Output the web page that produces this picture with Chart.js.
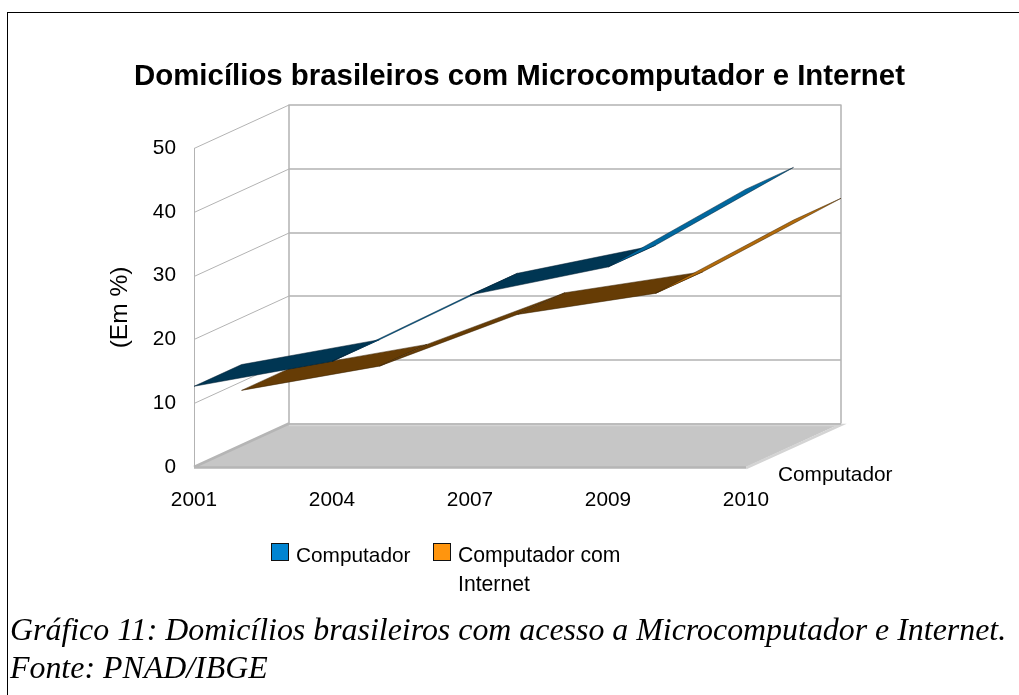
<!DOCTYPE html>
<html>
<head>
<meta charset="utf-8">
<script src="https://cdn.jsdelivr.net/npm/chart.js@4"></script>
<style>
  html, body { margin: 0; padding: 0; background: #fff; overflow: hidden; }
  body { width: 1019px; height: 695px; position: relative; font-family: "Liberation Sans", sans-serif; }
  #frame { position: absolute; left: 7px; top: 12px; width: 1100px; height: 800px; border: 1px solid #000; }
  #myChart { position: absolute; left: 0; top: 0; }
  #title { position: absolute; left: 0; top: 58px; width: 1039px; text-align: center; font-weight: bold; font-size: 29.4px; white-space: nowrap; }
  #legend div { position: absolute; font-size: 20.8px; line-height: 29px; white-space: nowrap; }
  #legend .box { width: 16px; height: 16px; border: 1px solid #111; }
  #caption { position: absolute; left: 10px; top: 611px; font: italic 31.9px/37.5px "Liberation Serif", serif; white-space: nowrap; }
</style>
</head>
<body>
<div id="frame"></div>
<canvas id="myChart" width="1019" height="695"></canvas>
<div id="title">Domicílios brasileiros com Microcomputador e Internet</div>
<div id="legend">
  <div class="box" style="left:271px;top:543px;background:#0084d1"></div>
  <div style="left:296px;top:540px">Computador</div>
  <div class="box" style="left:433px;top:543px;background:#ff950e"></div>
  <div style="left:458px;top:540px;font-size:21.2px">Computador com<br>Internet</div>
</div>
<div id="caption">Gráfico 11: Domicílios brasileiros com acesso a Microcomputador e Internet.<br>Fonte: PNAD/IBGE</div>
<script>
// Values
const years = ['2001', '2004', '2007', '2009', '2010'];
const computador = [12.65, 16.55, 26.95, 31.35, 43.55];
const computadorInternet = [8.6, 12.4, 20.5, 23.8, 35.3];
const depthLabel = 'Computador';
const yTitle = '(Em %)';

// Size of one depth row, in pixels
const DEPTH_X = 47.5;
const DEPTH_Y = -21.75;

// Draws the box, the floor and the ribbons behind the (hidden) datasets
const depthPlugin = {
  id: 'depthPlugin',
  beforeDatasetsDraw(chart) {
    const ctx = chart.ctx;
    const a = chart.chartArea;
    const y = chart.scales.y;
    const dx = DEPTH_X * 2, dy = DEPTH_Y * 2;
    ctx.save();

    // floor
    ctx.fillStyle = '#c6c6c6';
    ctx.beginPath();
    ctx.moveTo(a.left, a.bottom);
    ctx.lineTo(a.left + dx, a.bottom + dy);
    ctx.lineTo(a.right + dx, a.bottom + dy);
    ctx.lineTo(a.right, a.bottom);
    ctx.closePath();
    ctx.fill();
    ctx.lineWidth = 2.5;
    ctx.strokeStyle = '#d4d4d4';
    ctx.beginPath();
    ctx.moveTo(a.left + dx, a.bottom + dy + 1.5);
    ctx.lineTo(a.right + dx, a.bottom + dy + 1.5);
    ctx.lineTo(a.right, a.bottom + 1);
    ctx.stroke();
    ctx.strokeStyle = '#b5b5b5';
    ctx.beginPath();
    ctx.moveTo(a.left, a.bottom + 0.5);
    ctx.lineTo(a.right, a.bottom + 0.5);
    ctx.moveTo(a.left, a.bottom);
    ctx.lineTo(a.left + dx, a.bottom + dy);
    ctx.stroke();

    // walls and grid
    ctx.strokeStyle = '#b3b3b3';
    ctx.lineWidth = 1;
    ctx.beginPath();
    y.ticks.forEach(t => {
      const py = Math.round(y.getPixelForValue(t.value)) + 0.5;
      if (t.value > 0) {
        ctx.moveTo(a.left, py);
        ctx.lineTo(a.left + dx, py + dy);
      }
    });
    ctx.moveTo(a.left + 0.5, a.top);
    ctx.lineTo(a.left + 0.5, a.bottom);
    ctx.stroke();
    ctx.lineWidth = 1.5;
    ctx.beginPath();
    y.ticks.forEach(t => {
      const py = Math.round(y.getPixelForValue(t.value)) + 0.5;
      ctx.moveTo(a.left + dx, py + dy);
      ctx.lineTo(a.right + dx, py + dy);
    });
    ctx.moveTo(a.left + dx, a.top + dy);
    ctx.lineTo(a.left + dx, a.bottom + dy);
    ctx.moveTo(a.right + dx, a.top + dy);
    ctx.lineTo(a.right + dx, a.bottom + dy);
    ctx.stroke();

    // ribbons, back row first
    drawRibbon(chart, 1, 1, '#663c05', '#b36b0b', '#3a2203');
    drawRibbon(chart, 0, 0, '#003653', '#00689f', '#001f33');

    // depth axis label
    ctx.fillStyle = '#000';
    ctx.font = '20.8px "Liberation Sans"';
    ctx.textBaseline = 'middle';
    ctx.fillText(depthLabel, a.right + 32, a.bottom + 8);
    ctx.restore();
  }
};

function drawRibbon(chart, datasetIndex, row, dark, light, edge) {
  const ctx = chart.ctx;
  const pts = chart.getDatasetMeta(datasetIndex).data;
  const ox = DEPTH_X * row, oy = DEPTH_Y * row;
  for (let i = 0; i < pts.length - 1; i++) {
    const p = pts[i], q = pts[i + 1];
    // steeper than the depth direction: we see the lit side
    const steeper = (q.y - p.y) / (q.x - p.x) < DEPTH_Y / DEPTH_X;
    ctx.fillStyle = steeper ? light : dark;
    ctx.strokeStyle = edge;
    ctx.lineWidth = 0.5;
    ctx.beginPath();
    ctx.moveTo(p.x + ox, p.y + oy);
    ctx.lineTo(q.x + ox, q.y + oy);
    ctx.lineTo(q.x + ox + DEPTH_X, q.y + oy + DEPTH_Y);
    ctx.lineTo(p.x + ox + DEPTH_X, p.y + oy + DEPTH_Y);
    ctx.closePath();
    ctx.fill();
    ctx.stroke();
  }
}

const ctx = document.getElementById('myChart').getContext('2d');
const myChart = new Chart(ctx, {
  type: 'line',
  data: {
    labels: years,
    datasets: [
      { label: 'Computador', data: computador, showLine: false, pointRadius: 0, borderColor: '#0084d1', backgroundColor: '#0084d1' },
      { label: 'Computador com Internet', data: computadorInternet, showLine: false, pointRadius: 0, borderColor: '#ff950e', backgroundColor: '#ff950e' }
    ]
  },
  options: {
    responsive: false,
    animation: false,
    layout: { padding: { left: 106, right: 273, top: 148, bottom: 178 } },
    plugins: { legend: { display: false }, title: { display: false }, tooltip: { enabled: false } },
    scales: {
      x: {
        grid: { display: false },
        border: { display: false },
        ticks: { color: '#000', font: { family: 'Liberation Sans', size: 20.8 }, padding: 13, maxRotation: 0, autoSkip: false },
        afterFit(scale) { scale.height = 50; }
      },
      y: {
        min: 0,
        max: 50,
        grid: { display: false },
        border: { display: false },
        ticks: { stepSize: 10, color: '#000', font: { family: 'Liberation Sans', size: 20.8 }, padding: 10 },
        title: { display: true, text: yTitle, color: '#000', font: { family: 'Liberation Sans', size: 24.5 }, padding: 0 },
        afterFit(scale) { scale.width = 88; }
      }
    }
  },
  plugins: [depthPlugin]
});
</script>
</body>
</html>
